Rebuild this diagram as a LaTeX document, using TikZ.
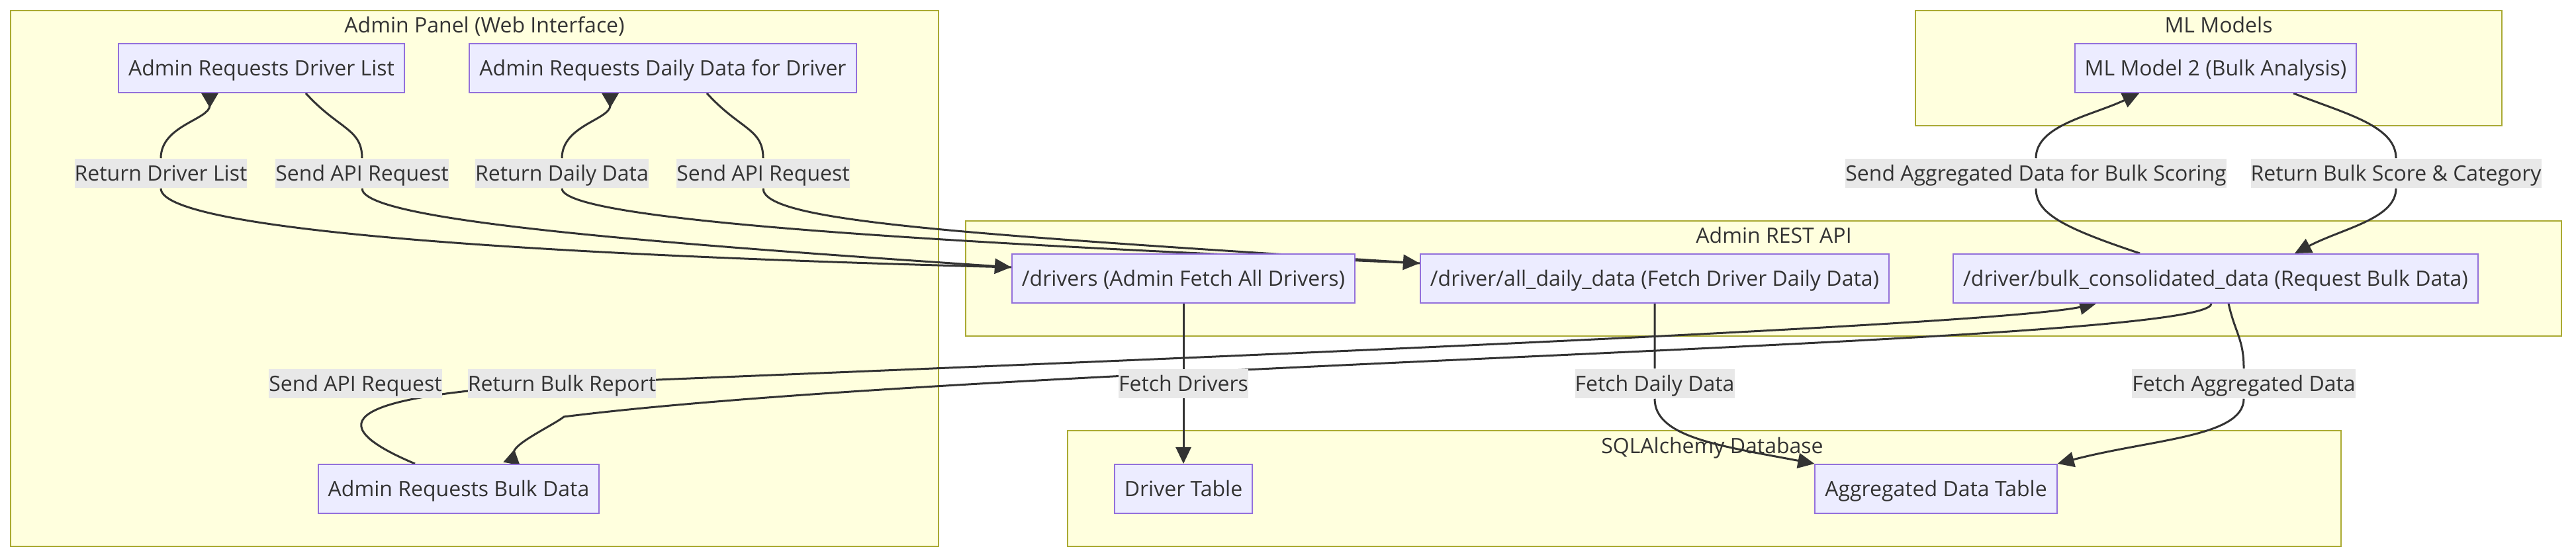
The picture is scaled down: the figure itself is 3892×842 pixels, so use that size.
\documentclass[tikz,border=0pt]{standalone}
\usepackage{fontspec}
\setmainfont{Open Sans}
\usetikzlibrary{arrows.meta}
\definecolor{ink}{HTML}{333333}
\definecolor{grpfill}{HTML}{FFFFDE}
\definecolor{grpline}{HTML}{AAAA33}
\definecolor{boxfill}{HTML}{ECECFF}
\definecolor{boxline}{HTML}{9370DB}
\definecolor{lblfill}{HTML}{E8E8E8}
\pgfdeclarelayer{grp}
\pgfdeclarelayer{edge}
\pgfsetlayers{grp,edge,main}
\newcommand{\dfont}{\fontsize{8}{10}\selectfont}
\tikzset{
  grp/.style={draw=grpline, fill=grpfill, line width=0.5pt},
  ttl/.style={anchor=base, inner sep=0pt, font=\dfont, text=ink},
  box/.style={draw=boxline, fill=boxfill, line width=0.5pt, inner xsep=3.75pt, inner ysep=0pt,
              minimum height=18.5pt, text height=5.7pt, text depth=0pt, font=\dfont, text=ink},
  lbl/.style={fill=lblfill, inner sep=0pt, minimum height=11pt, text height=5.7pt,
              text depth=0pt, font=\dfont, text=ink},
  ch/.style={-{Triangle[length=6.25pt,width=5.75pt]}, line width=0.75pt, draw=ink},
  rch/.style={-{Triangle[reversed,length=5.5pt,width=6.25pt]}, line width=0.75pt, draw=ink},
}

\begin{document}
\begin{tikzpicture}[x=0.25pt, y=-0.25pt]
  \useasboundingbox (0,0) rectangle (3892,842);
  \begin{pgfonlayer}{grp}
    \fill[white] (0,0) rectangle (3892,842);
    \draw[grp] (16,16) rectangle (1418,826);
    \draw[grp] (1459,334) rectangle (3870,508);
    \draw[grp] (2894,16) rectangle (3780,190);
    \draw[grp] (1613,651) rectangle (3537,826);
    \node[ttl] (tpanel) at (732,50) {Admin Panel (Web Interface)};
    \node[ttl] (trest) at (2680,368) {Admin REST API};
    \node[ttl] (tml) at (3352,50) {ML Models};
    \node[ttl] (tdb) at (2587,686) {SQLAlchemy Database};
  \end{pgfonlayer}

  \node[box] (dl) at (395,103) {Admin Requests Driver List};
  \node[box] (dd) at (1001.5,103) {Admin Requests Daily Data for Driver};
  \node[box] (bulk) at (693,739) {Admin Requests Bulk Data};
  \node[box] (drv) at (1788,421) {/drivers (Admin Fetch All Drivers)};
  \node[box] (dapi) at (2500,421) {/driver/all\_daily\_data (Fetch Driver Daily Data)};
  \node[box] (bc) at (3347.5,421) {/driver/bulk\_consolidated\_data (Request Bulk Data)};
  \node[box] (ml) at (3347.5,103) {ML Model 2 (Bulk Analysis)};
  \node[box] (dt) at (1788,739) {Driver Table};
  \node[box] (agg) at (2925,739) {Aggregated Data Table};

  \node[lbl] (rdl) at (243,262) {Return Driver List};
  \node[lbl] (sar1) at (547,262) {Send API Request};
  \node[lbl] (rdd) at (849,262) {Return Daily Data};
  \node[lbl] (sar2) at (1153,262) {Send API Request};
  \node[lbl] (sad) at (3076,262) {Send Aggregated Data for Bulk Scoring};
  \node[lbl] (rbs) at (3620,262) {Return Bulk Score \& Category};
  \node[lbl] (sar3) at (537,580) {Send API Request};
  \node[lbl] (rbr) at (849,580) {Return Bulk Report};
  \node[lbl] (fd) at (1788,580) {Fetch Drivers};
  \node[lbl] (fdd) at (2500,580) {Fetch Daily Data};
  \node[lbl] (fad) at (3390,580) {Fetch Aggregated Data};
  \coordinate (bend) at (852,630);

  \begin{pgfonlayer}{edge}
    \draw[ch] ([shift={(67,0)}]dl.south) .. controls +(50,55) and +(0,-45) .. (sar1.north)
      (sar1.south) .. controls +(0,46) and +(-600,-40) .. ([shift={(0,-17)}]drv.west);
    \draw[rch] ([shift={(0,-17)}]drv.west) .. controls +(-600,-15) and +(0,70) .. (rdl.south)
      (rdl.north) .. controls +(0,-50) and +(0,40) .. ([shift={(-78,0)}]dl.south);
    \draw[ch] ([shift={(66.5,0)}]dd.south) .. controls +(50,55) and +(0,-45) .. (sar2.north)
      (sar2.south) .. controls +(0,50) and +(-700,-45) .. ([shift={(0,-23)}]dapi.west);
    \draw[rch] ([shift={(0,-23)}]dapi.west) .. controls +(-700,-30) and +(0,50) .. (rdd.south)
      (rdd.north) .. controls +(0,-50) and +(0,40) .. ([shift={(-79.5,0)}]dd.south);
    \draw[ch] ([shift={(-66,0)}]bulk.north) .. controls +(-147,-62) and +(-329,18) .. (rbr.center)
      .. controls +(650,-27) and +(-167,36) .. ([shift={(-180.5,0)}]bc.south);
    \draw[rch] ([shift={(-6.5,0)}]bc.south) .. controls +(0,62) and +(640,-80) .. (bend)
      .. controls +(-15,12) and +(6,-32) .. ([shift={(80,0)}]bulk.north);
    \draw[ch] (drv) -- (dt);
    \draw[ch] (dapi) -- (fdd) (fdd.south) .. controls +(0,58) and +(-143,-27) .. (agg.north west);
    \draw[ch] ([shift={(19.5,0)}]bc.south) .. controls +(10,45) and +(0,-45) .. (fad.north)
      (fad.south) .. controls +(0,58) and +(141,-37) .. (agg.north east);
    \draw[ch] ([shift={(-114.5,0)}]bc.north) .. controls +(-120,-40) and +(0,37) .. (sad.south)
      (sad.north) .. controls +(0,-50) and +(-72,34) .. ([shift={(-115.5,0)}]ml.south);
    \draw[ch] ([shift={(117.5,0)}]ml.south) .. controls +(75,30) and +(0,-50) .. (rbs.north)
      (rbs.south) .. controls +(0,46) and +(73,-38) .. ([shift={(119.5,0)}]bc.north);
  \end{pgfonlayer}
\end{tikzpicture}
\end{document}
